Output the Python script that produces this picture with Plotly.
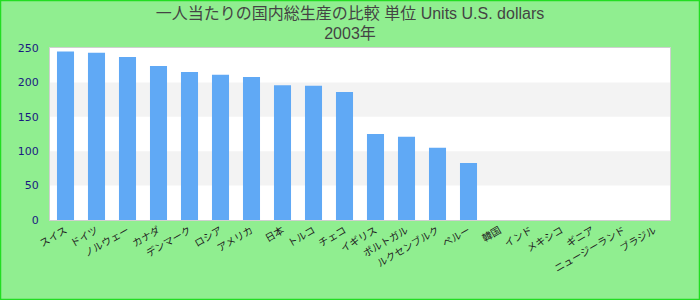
import plotly.graph_objects as go

title_main = "一人当たりの国内総生産の比較 単位 Units U.S. dollars"
title_year = "2003年"

categories = ["スイス", "ドイツ", "ノルウェー", "カナダ", "デンマーク", "ロシア", "アメリカ",
              "日本", "トルコ", "チェコ", "イギリス", "ポルトガル", "ルクセンブルク", "ペルー",
              "韓国", "インド", "メキシコ", "ギニア", "ニュージーランド", "ブラジル"]
values = [245, 243, 237, 224, 215, 211, 208, 196, 195, 186, 125, 121, 105, 83,
          None, None, None, None, None, None]
y_ticks = [0, 50, 100, 150, 200, 250]

fig = go.Figure(go.Bar(x=categories, y=values, marker=dict(color="#60a9f5", line=dict(width=0))))

shapes = []
for i in range(1, len(y_ticks) - 1, 2):
    shapes.append(dict(type="rect", xref="paper", yref="y", x0=0, x1=1,
                       y0=y_ticks[i], y1=y_ticks[i + 1], fillcolor="#f3f3f3",
                       line=dict(width=0), layer="below"))
# page border
L, R, T, B = 50, 30, 48, 80
pw, ph = 700 - L - R, 300 - T - B
shapes.append(dict(type="rect", xref="paper", yref="paper",
                   x0=-L / pw + 0.5 / pw, x1=(700 - L - 0.5) / pw,
                   y0=-B / ph + 0.5 / ph, y1=1 + (T - 0.5) / ph,
                   line=dict(color="#22dd22", width=1.5), fillcolor="rgba(0,0,0,0)"))

fig.update_layout(
    width=700, height=300,
    margin=dict(l=L, r=R, t=T, b=B),
    paper_bgcolor="#90ee90", plot_bgcolor="#ffffff",
    title=dict(text=title_main + "<br>" + title_year, x=0.5, xanchor="center",
               y=0.938, yanchor="top", yref="container",
               font=dict(family="Liberation Sans, Noto Sans CJK JP", size=16, color="#444444")),
    bargap=0.45,
    showlegend=False,
    shapes=shapes,
    xaxis=dict(type="category", tickangle=-30, showgrid=False,
               tickfont=dict(family="Noto Sans CJK JP", size=10, color="#222222"),
               showline=True, linecolor="#d0d0d0", linewidth=1, mirror=True, ticks=""),
    yaxis=dict(range=[0, 250], tickvals=y_ticks, showgrid=False, zeroline=False,
               tickfont=dict(family="DejaVu Sans", size=11, color="#1a1a80"),
               showline=True, linecolor="#d0d0d0", linewidth=1, mirror=True,
               ticks="", ticklabelstandoff=8),
)

fig.write_html("out.html")
